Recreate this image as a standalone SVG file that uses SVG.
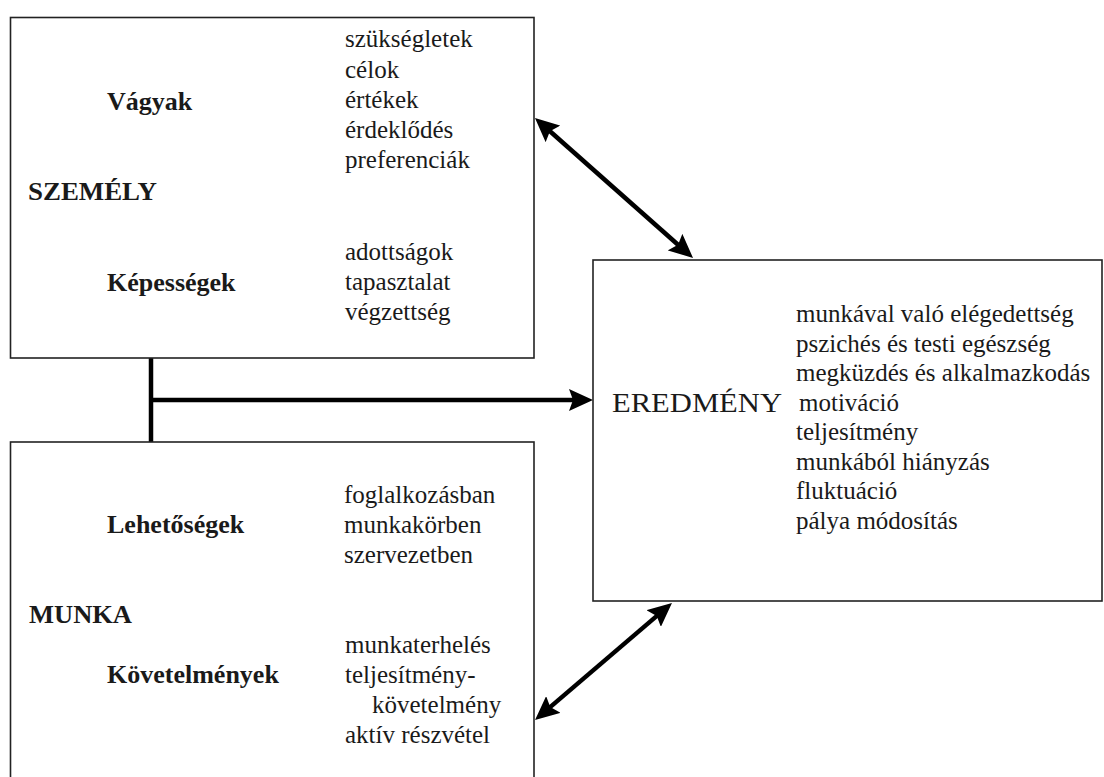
<svg xmlns="http://www.w3.org/2000/svg" width="1104" height="777" viewBox="0 0 1104 777">
<style>
.box{fill:#fff;stroke:#222;stroke-width:1.6}
text{font-family:'Liberation Serif','DejaVu Serif','Times New Roman',serif;font-size:25px;fill:#1a1a1a}
.b{font-weight:bold;font-size:26px}
.con{fill:none;stroke:#000;stroke-width:4.5}
</style>
<defs>
<marker id="ah" viewBox="0 0 24 22" refX="13" refY="11" markerWidth="24" markerHeight="22" markerUnits="userSpaceOnUse" orient="auto-start-reverse">
<path d="M0,0 L24,11 L0,22 L4,11 z" fill="#000"/>
</marker>
</defs>
<rect width="1104" height="777" fill="#fff"/>
<g id="connectors">
<line class="con" x1="151" y1="358" x2="151" y2="442"/>
<line class="con" x1="151" y1="400" x2="582" y2="400" marker-end="url(#ah)"/>
<line class="con" x1="543.2" y1="125.3" x2="684.8" y2="250.7" marker-start="url(#ah)" marker-end="url(#ah)"/>
<line class="con" x1="663.6" y1="610.1" x2="543.4" y2="712.9" marker-start="url(#ah)" marker-end="url(#ah)"/>
</g>
<g id="szemely" font-family="Liberation Serif, DejaVu Serif, serif">
<rect class="box" x="10.5" y="17.5" width="523.5" height="340.5"/>
<text class="b" x="107" y="110" font-family="Liberation Serif, serif">Vágyak</text>
<text class="b" x="28" y="200" textLength="129" lengthAdjust="spacingAndGlyphs" font-family="Liberation Serif, serif">SZEMÉLY</text>
<text class="b" x="107" y="291" font-family="Liberation Serif, serif">Képességek</text>
<text x="345" y="47" font-family="Liberation Serif, serif">szükségletek</text>
<text x="345" y="78" font-family="Liberation Serif, serif">célok</text>
<text x="345" y="108" font-family="Liberation Serif, serif">értékek</text>
<text x="345" y="138" font-family="Liberation Serif, serif">érdeklődés</text>
<text x="345" y="168" font-family="Liberation Serif, serif">preferenciák</text>
<text x="345" y="260" font-family="Liberation Serif, serif">adottságok</text>
<text x="345" y="290" font-family="Liberation Serif, serif">tapasztalat</text>
<text x="345" y="320" font-family="Liberation Serif, serif">végzettség</text>
</g>
<g id="munka">
<rect class="box" x="10.5" y="442" width="523.5" height="345"/>
<text class="b" x="107" y="533" font-family="Liberation Serif, serif">Lehetőségek</text>
<text class="b" x="29" y="623" textLength="103" lengthAdjust="spacingAndGlyphs" font-family="Liberation Serif, serif">MUNKA</text>
<text class="b" x="107" y="683" font-family="Liberation Serif, serif">Követelmények</text>
<text x="344" y="503" font-family="Liberation Serif, serif">foglalkozásban</text>
<text x="344" y="533" font-family="Liberation Serif, serif">munkakörben</text>
<text x="344" y="563" font-family="Liberation Serif, serif">szervezetben</text>
<text x="345" y="653" font-family="Liberation Serif, serif">munkaterhelés</text>
<text x="345" y="683" font-family="Liberation Serif, serif">teljesítmény-</text>
<text x="372" y="713" font-family="Liberation Serif, serif">követelmény</text>
<text x="345" y="743" font-family="Liberation Serif, serif">aktív részvétel</text>
</g>
<g id="eredmeny">
<rect class="box" x="593" y="260" width="509" height="341"/>
<text x="612" y="412" textLength="170" lengthAdjust="spacingAndGlyphs" style="font-size:28px" font-family="Liberation Serif, serif">EREDMÉNY</text>
<text x="796" y="322" font-family="Liberation Serif, serif">munkával való elégedettség</text>
<text x="796" y="351.5" font-family="Liberation Serif, serif">pszichés és testi egészség</text>
<text x="796" y="381" font-family="Liberation Serif, serif">megküzdés és alkalmazkodás</text>
<text x="799" y="410.5" font-family="Liberation Serif, serif">motiváció</text>
<text x="796" y="440" font-family="Liberation Serif, serif">teljesítmény</text>
<text x="796" y="469.5" font-family="Liberation Serif, serif">munkából hiányzás</text>
<text x="796" y="499" font-family="Liberation Serif, serif">fluktuáció</text>
<text x="796" y="528.5" font-family="Liberation Serif, serif">pálya módosítás</text>
</g>
</svg>
